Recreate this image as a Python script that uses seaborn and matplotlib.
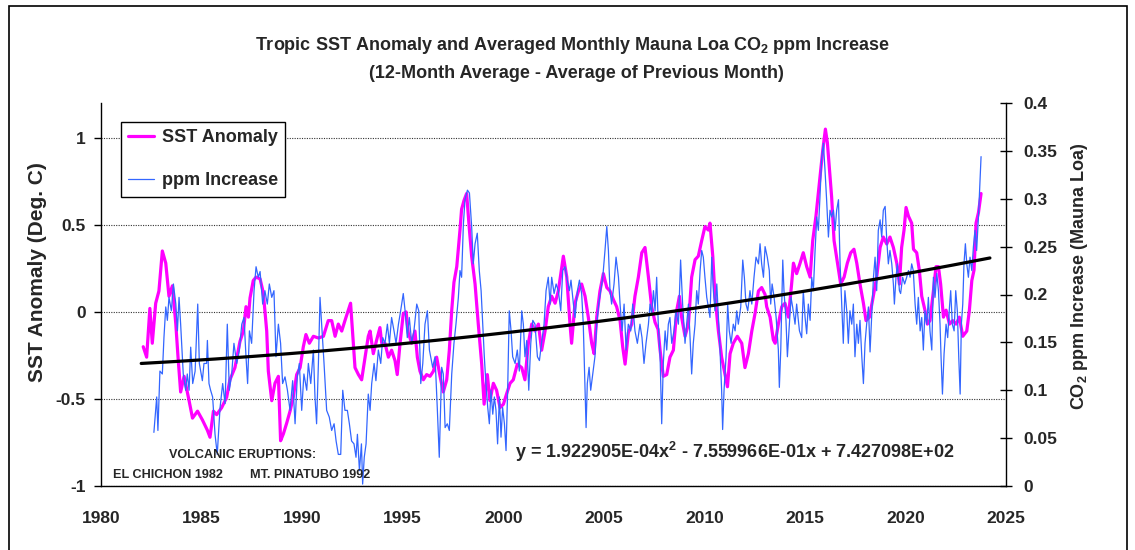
import numpy as np
import pandas as pd
import matplotlib
matplotlib.use("Agg")
import matplotlib.pyplot as plt
import seaborn as sns
from matplotlib.patches import Rectangle

# ---------------- data ----------------
# Tropical SST anomaly (deg C), 12-month running values
sst_years = [
    1982.10, 1982.27, 1982.43, 1982.55, 1982.72, 1982.88, 1983.05, 1983.22, 1983.38, 1983.55,
    1983.72, 1983.83, 1983.96, 1984.13, 1984.38, 1984.55, 1984.80, 1985.04, 1985.29, 1985.42,
    1985.59, 1985.75, 1986.00, 1986.25, 1986.41, 1986.66, 1986.91, 1987.08, 1987.21, 1987.33,
    1987.41, 1987.57, 1987.71, 1987.91, 1988.07, 1988.24, 1988.32, 1988.49, 1988.65, 1988.82,
    1988.93, 1989.07, 1989.23, 1989.40, 1989.56, 1989.73, 1989.90, 1990.06, 1990.19, 1990.36,
    1990.56, 1990.81, 1991.06, 1991.30, 1991.47, 1991.64, 1991.80, 1991.97, 1992.13, 1992.30,
    1992.41, 1992.55, 1992.63, 1992.80, 1992.96, 1993.13, 1993.29, 1993.38, 1993.54, 1993.71,
    1993.87, 1993.96, 1994.12, 1994.29, 1994.45, 1994.62, 1994.73, 1994.87, 1995.03, 1995.17,
    1995.28, 1995.45, 1995.61, 1995.73, 1995.86, 1996.03, 1996.19, 1996.36, 1996.53, 1996.69,
    1996.86, 1997.02, 1997.19, 1997.32, 1997.44, 1997.55, 1997.69, 1997.85, 1997.93, 1998.05,
    1998.18, 1998.32, 1998.43, 1998.60, 1998.76, 1998.93, 1999.05, 1999.21, 1999.34, 1999.51,
    1999.67, 1999.84, 2000.01, 2000.17, 2000.34, 2000.50, 2000.70, 2000.92, 2001.08, 2001.25,
    2001.42, 2001.58, 2001.75, 2001.91, 2002.08, 2002.24, 2002.41, 2002.58, 2002.74, 2002.99,
    2003.16, 2003.32, 2003.40, 2003.57, 2003.74, 2003.90, 2004.07, 2004.23, 2004.40, 2004.52,
    2004.65, 2004.81, 2004.98, 2005.15, 2005.31, 2005.48, 2005.64, 2005.81, 2005.94, 2006.06,
    2006.22, 2006.39, 2006.55, 2006.72, 2006.89, 2007.05, 2007.22, 2007.38, 2007.55, 2007.70,
    2007.80, 2007.96, 2008.13, 2008.29, 2008.46, 2008.63, 2008.76, 2008.87, 2009.04, 2009.21,
    2009.37, 2009.54, 2009.70, 2009.87, 2010.03, 2010.20, 2010.28, 2010.42, 2010.53, 2010.70,
    2010.86, 2011.03, 2011.15, 2011.28, 2011.44, 2011.64, 2011.86, 2012.02, 2012.19, 2012.36,
    2012.52, 2012.69, 2012.85, 2013.02, 2013.10, 2013.27, 2013.43, 2013.52, 2013.68, 2013.85,
    2014.01, 2014.18, 2014.34, 2014.43, 2014.59, 2014.76, 2014.92, 2015.09, 2015.26, 2015.39,
    2015.55, 2015.72, 2015.89, 2016.02, 2016.12, 2016.22, 2016.33, 2016.45, 2016.62, 2016.78,
    2016.95, 2017.11, 2017.28, 2017.44, 2017.58, 2017.74, 2017.91, 2018.04, 2018.21, 2018.37,
    2018.57, 2018.74, 2018.90, 2019.07, 2019.23, 2019.40, 2019.57, 2019.70, 2019.81, 2019.93,
    2020.03, 2020.15, 2020.31, 2020.40, 2020.56, 2020.69, 2020.81, 2020.97, 2021.09, 2021.22,
    2021.39, 2021.52, 2021.64, 2021.75, 2021.89, 2022.02, 2022.19, 2022.35, 2022.52, 2022.68,
    2022.85, 2023.05, 2023.18, 2023.30, 2023.41, 2023.51, 2023.63, 2023.76,
]
sst_values = [
    -0.20, -0.26, 0.02, -0.18, 0.05, 0.12, 0.35, 0.28, 0.09, 0.15,
    -0.07, -0.26, -0.46, -0.37, -0.51, -0.61, -0.57, -0.62, -0.68, -0.72,
    -0.57, -0.59, -0.55, -0.49, -0.39, -0.32, -0.17, -0.11, 0.03, -0.03,
    0.08, 0.18, 0.20, 0.19, 0.11, -0.11, -0.34, -0.51, -0.41, -0.37,
    -0.74, -0.70, -0.64, -0.57, -0.49, -0.36, -0.32, -0.20, -0.13, -0.18,
    -0.14, -0.15, -0.14, -0.05, -0.05, -0.14, -0.07, -0.11, -0.05, 0.01,
    0.05, -0.18, -0.32, -0.36, -0.39, -0.26, -0.14, -0.11, -0.24, -0.16,
    -0.09, -0.18, -0.18, -0.26, -0.22, -0.28, -0.36, -0.18, -0.01, 0.00,
    -0.12, -0.18, -0.11, -0.26, -0.34, -0.39, -0.36, -0.37, -0.34, -0.26,
    -0.37, -0.46, -0.39, -0.22, 0.01, 0.17, 0.26, 0.47, 0.59, 0.64,
    0.68, 0.47, 0.32, 0.16, -0.07, -0.30, -0.53, -0.36, -0.51, -0.41,
    -0.45, -0.55, -0.53, -0.47, -0.41, -0.39, -0.30, -0.32, -0.39, -0.18,
    -0.07, -0.11, -0.07, -0.22, -0.11, 0.03, 0.09, 0.05, 0.12, 0.32,
    0.20, -0.07, -0.18, 0.05, 0.12, 0.16, 0.09, -0.03, -0.18, -0.24,
    -0.03, 0.12, 0.22, 0.14, 0.12, 0.07, 0.03, -0.05, -0.20, -0.30,
    -0.12, -0.07, 0.09, 0.20, 0.34, 0.37, 0.20, 0.03, -0.06, -0.10,
    -0.22, -0.37, -0.36, -0.26, -0.22, 0.01, 0.09, -0.03, -0.14, -0.07,
    0.20, 0.30, 0.32, 0.41, 0.49, 0.47, 0.51, 0.32, 0.09, -0.11,
    -0.26, -0.36, -0.43, -0.24, -0.18, -0.14, -0.18, -0.32, -0.24, -0.11,
    -0.01, 0.12, 0.14, 0.10, 0.03, -0.03, -0.16, -0.18, -0.07, 0.03,
    0.05, -0.03, 0.16, 0.28, 0.22, 0.28, 0.34, 0.26, 0.20, 0.41,
    0.55, 0.74, 0.93, 1.05, 0.97, 0.82, 0.66, 0.41, 0.28, 0.16,
    0.20, 0.28, 0.34, 0.36, 0.28, 0.16, 0.05, -0.05, -0.03, 0.07,
    0.20, 0.37, 0.43, 0.39, 0.43, 0.37, 0.28, 0.16, 0.37, 0.47,
    0.60, 0.55, 0.51, 0.36, 0.34, 0.24, 0.09, 0.01, -0.07, -0.05,
    0.12, 0.26, 0.26, 0.16, -0.03, 0.01, -0.07, -0.05, -0.07, -0.03,
    -0.14, -0.11, 0.01, 0.18, 0.24, 0.51, 0.57, 0.68,
]

# Mauna Loa CO2 monthly increase (ppm), 12-month average minus previous month
ppm_years = [
    1982.63, 1982.77, 1982.83, 1982.93, 1983.05, 1983.13, 1983.22, 1983.30, 1983.38, 1983.50,
    1983.60, 1983.72, 1983.80, 1983.88, 1983.96, 1984.09, 1984.21, 1984.29, 1984.38, 1984.46,
    1984.56, 1984.68, 1984.81, 1984.89, 1985.04, 1985.12, 1985.25, 1985.29, 1985.37, 1985.45,
    1985.55, 1985.67, 1985.78, 1985.92, 1986.05, 1986.17, 1986.28, 1986.38, 1986.50, 1986.61,
    1986.75, 1986.88, 1987.00, 1987.11, 1987.21, 1987.29, 1987.38, 1987.49, 1987.61, 1987.71,
    1987.82, 1987.91, 1988.04, 1988.15, 1988.27, 1988.37, 1988.49, 1988.60, 1988.70, 1988.82,
    1988.93, 1989.03, 1989.15, 1989.27, 1989.40, 1989.53, 1989.65, 1989.76, 1989.86, 1989.98,
    1990.09, 1990.23, 1990.31, 1990.43, 1990.56, 1990.64, 1990.72, 1990.81, 1990.89, 1990.97,
    1991.09, 1991.22, 1991.35, 1991.47, 1991.59, 1991.69, 1991.80, 1991.92, 1992.02, 1992.13,
    1992.25, 1992.35, 1992.46, 1992.58, 1992.68, 1992.75, 1992.85, 1992.95, 1993.01, 1993.09,
    1993.18, 1993.29, 1993.38, 1993.46, 1993.58, 1993.67, 1993.79, 1993.91, 1994.01, 1994.12,
    1994.24, 1994.34, 1994.45, 1994.57, 1994.67, 1994.79, 1994.90, 1995.03, 1995.12, 1995.23,
    1995.33, 1995.45, 1995.56, 1995.70, 1995.80, 1995.90, 1996.00, 1996.11, 1996.23, 1996.33,
    1996.49, 1996.61, 1996.72, 1996.82, 1996.94, 1997.02, 1997.11, 1997.22, 1997.32, 1997.44,
    1997.55, 1997.65, 1997.77, 1997.85, 1997.93, 1998.02, 1998.10, 1998.22, 1998.32, 1998.43,
    1998.51, 1998.60, 1998.71, 1998.81, 1998.90, 1998.98, 1999.06, 1999.14, 1999.23, 1999.31,
    1999.39, 1999.48, 1999.56, 1999.64, 1999.72, 1999.81, 1999.89, 1999.97, 2000.06, 2000.14,
    2000.22, 2000.30, 2000.39, 2000.47, 2000.59, 2000.70, 2000.80, 2000.92, 2001.00, 2001.08,
    2001.17, 2001.27, 2001.37, 2001.47, 2001.58, 2001.70, 2001.80, 2001.91, 2002.03, 2002.13,
    2002.24, 2002.33, 2002.41, 2002.53, 2002.63, 2002.74, 2002.86, 2002.96, 2003.07, 2003.16,
    2003.29, 2003.37, 2003.49, 2003.57, 2003.69, 2003.79, 2003.90, 2003.98, 2004.07, 2004.12,
    2004.18, 2004.27, 2004.35, 2004.45, 2004.56, 2004.65, 2004.75, 2004.85, 2004.95, 2005.06,
    2005.15, 2005.23, 2005.31, 2005.39, 2005.51, 2005.61, 2005.73, 2005.81, 2005.91, 2006.01,
    2006.11, 2006.22, 2006.34, 2006.44, 2006.55, 2006.67, 2006.80, 2006.90, 2007.00, 2007.10,
    2007.22, 2007.30, 2007.38, 2007.47, 2007.55, 2007.63, 2007.71, 2007.80, 2007.88, 2007.96,
    2008.05, 2008.13, 2008.21, 2008.29, 2008.38, 2008.49, 2008.59, 2008.71, 2008.82, 2008.92,
    2009.04, 2009.12, 2009.21, 2009.29, 2009.37, 2009.45, 2009.54, 2009.62, 2009.70, 2009.79,
    2009.87, 2009.95, 2010.03, 2010.12, 2010.20, 2010.28, 2010.37, 2010.45, 2010.53, 2010.62,
    2010.70, 2010.78, 2010.86, 2010.91, 2010.98, 2011.08, 2011.16, 2011.24, 2011.33, 2011.44,
    2011.53, 2011.61, 2011.69, 2011.81, 2011.91, 2011.99, 2012.07, 2012.16, 2012.27, 2012.36,
    2012.47, 2012.57, 2012.69, 2012.77, 2012.85, 2012.94, 2013.02, 2013.13, 2013.23, 2013.30,
    2013.37, 2013.47, 2013.57, 2013.68, 2013.73, 2013.80, 2013.90, 2013.96, 2014.06, 2014.13,
    2014.23, 2014.31, 2014.39, 2014.51, 2014.59, 2014.73, 2014.84, 2014.92, 2015.01, 2015.09,
    2015.17, 2015.26, 2015.34, 2015.42, 2015.50, 2015.59, 2015.67, 2015.75, 2015.84, 2015.92,
    2016.00, 2016.08, 2016.17, 2016.25, 2016.33, 2016.42, 2016.50, 2016.58, 2016.67, 2016.75,
    2016.83, 2016.91, 2016.99, 2017.08, 2017.16, 2017.24, 2017.33, 2017.41, 2017.49, 2017.58,
    2017.66, 2017.74, 2017.83, 2017.91, 2017.99, 2018.07, 2018.16, 2018.24, 2018.32, 2018.41,
    2018.49, 2018.57, 2018.65, 2018.74, 2018.82, 2018.90, 2018.99, 2019.07, 2019.15, 2019.23,
    2019.32, 2019.40, 2019.45, 2019.53, 2019.60, 2019.70, 2019.76, 2019.86, 2019.96, 2020.06,
    2020.15, 2020.23, 2020.31, 2020.39, 2020.48, 2020.56, 2020.64, 2020.73, 2020.81, 2020.89,
    2020.97, 2021.06, 2021.14, 2021.22, 2021.31, 2021.39, 2021.47, 2021.56, 2021.64, 2021.72,
    2021.77, 2021.84, 2021.92, 2022.02, 2022.10, 2022.19, 2022.25, 2022.33, 2022.42, 2022.50,
    2022.58, 2022.65, 2022.72, 2022.78, 2022.85, 2022.91, 2022.98, 2023.05, 2023.13, 2023.21,
    2023.30, 2023.38, 2023.46, 2023.54, 2023.63, 2023.68, 2023.76,
]
ppm_values = [
    0.056, 0.093, 0.058, 0.120, 0.117, 0.155, 0.187, 0.173, 0.197, 0.183,
    0.211, 0.190, 0.162, 0.197, 0.169, 0.117, 0.100, 0.117, 0.100, 0.145,
    0.107, 0.120, 0.190, 0.128, 0.110, 0.128, 0.128, 0.152, 0.107, 0.100,
    0.093, 0.054, 0.033, 0.082, 0.107, 0.086, 0.169, 0.100, 0.117, 0.149,
    0.128, 0.142, 0.169, 0.176, 0.135, 0.107, 0.162, 0.149, 0.204, 0.229,
    0.218, 0.224, 0.190, 0.204, 0.190, 0.211, 0.197, 0.204, 0.135, 0.169,
    0.149, 0.107, 0.114, 0.100, 0.079, 0.110, 0.065, 0.114, 0.128, 0.079,
    0.117, 0.100, 0.128, 0.107, 0.142, 0.093, 0.065, 0.128, 0.197, 0.169,
    0.128, 0.079, 0.072, 0.058, 0.065, 0.047, 0.033, 0.033, 0.100, 0.079,
    0.079, 0.065, 0.047, 0.044, 0.030, 0.054, 0.016, 0.044, 0.002, 0.030,
    0.044, 0.096, 0.079, 0.107, 0.128, 0.110, 0.142, 0.128, 0.155, 0.149,
    0.169, 0.149, 0.176, 0.162, 0.149, 0.169, 0.183, 0.201, 0.183, 0.155,
    0.176, 0.149, 0.162, 0.190, 0.183, 0.107, 0.128, 0.169, 0.183, 0.142,
    0.124, 0.135, 0.082, 0.030, 0.124, 0.117, 0.061, 0.065, 0.058, 0.117,
    0.149, 0.169, 0.197, 0.225, 0.218, 0.274, 0.299, 0.309, 0.306, 0.271,
    0.232, 0.253, 0.264, 0.225, 0.204, 0.169, 0.135, 0.107, 0.082, 0.065,
    0.100, 0.075, 0.093, 0.079, 0.044, 0.093, 0.051, 0.082, 0.065, 0.037,
    0.100, 0.183, 0.162, 0.135, 0.128, 0.142, 0.120, 0.183, 0.169, 0.135,
    0.152, 0.100, 0.149, 0.173, 0.169, 0.135, 0.131, 0.150, 0.169, 0.204,
    0.218, 0.190, 0.218, 0.201, 0.211, 0.204, 0.183, 0.225, 0.229, 0.218,
    0.204, 0.215, 0.190, 0.176, 0.204, 0.215, 0.201, 0.169, 0.100, 0.061,
    0.107, 0.124, 0.100, 0.117, 0.135, 0.169, 0.190, 0.204, 0.218, 0.246,
    0.271, 0.246, 0.204, 0.190, 0.211, 0.239, 0.218, 0.190, 0.162, 0.190,
    0.142, 0.169, 0.162, 0.190, 0.162, 0.149, 0.169, 0.155, 0.128, 0.149,
    0.169, 0.190, 0.180, 0.204, 0.183, 0.218, 0.169, 0.135, 0.065, 0.128,
    0.162, 0.142, 0.169, 0.176, 0.149, 0.162, 0.183, 0.169, 0.236, 0.190,
    0.149, 0.169, 0.190, 0.155, 0.117, 0.149, 0.169, 0.204, 0.190, 0.225,
    0.246, 0.239, 0.218, 0.197, 0.187, 0.176, 0.239, 0.204, 0.183, 0.211,
    0.176, 0.142, 0.100, 0.059, 0.100, 0.135, 0.190, 0.162, 0.149, 0.169,
    0.162, 0.183, 0.169, 0.187, 0.236, 0.218, 0.190, 0.183, 0.204, 0.190,
    0.218, 0.239, 0.232, 0.253, 0.232, 0.218, 0.250, 0.239, 0.225, 0.190,
    0.211, 0.197, 0.176, 0.142, 0.103, 0.142, 0.236, 0.204, 0.173, 0.135,
    0.169, 0.197, 0.187, 0.169, 0.190, 0.162, 0.155, 0.204, 0.176, 0.159,
    0.190, 0.173, 0.218, 0.204, 0.243, 0.281, 0.267, 0.302, 0.344, 0.358,
    0.330, 0.299, 0.260, 0.288, 0.281, 0.288, 0.267, 0.288, 0.299, 0.232,
    0.190, 0.149, 0.204, 0.183, 0.149, 0.183, 0.169, 0.190, 0.135, 0.169,
    0.149, 0.173, 0.135, 0.107, 0.149, 0.169, 0.187, 0.140, 0.176, 0.218,
    0.239, 0.204, 0.267, 0.278, 0.260, 0.288, 0.292, 0.257, 0.232, 0.246,
    0.232, 0.211, 0.190, 0.218, 0.232, 0.204, 0.201, 0.218, 0.211, 0.218,
    0.225, 0.218, 0.232, 0.225, 0.190, 0.169, 0.197, 0.162, 0.176, 0.142,
    0.183, 0.169, 0.197, 0.162, 0.142, 0.218, 0.197, 0.222, 0.204, 0.169,
    0.135, 0.096, 0.138, 0.169, 0.155, 0.187, 0.204, 0.169, 0.162, 0.204,
    0.183, 0.135, 0.096, 0.169, 0.190, 0.232, 0.253, 0.232, 0.218, 0.239,
    0.225, 0.250, 0.267, 0.246, 0.281, 0.306, 0.344,
]

# Polynomial trend fitted to the SST anomaly
trend_coeffs = [1.922905e-04, -7.559966e-01, 7.427098e+02]
trend_span = [1982.0, 2024.2]

x_ticks = [1980, 1985, 1990, 1995, 2000, 2005, 2010, 2015, 2020, 2025]
sst_ticks = [-1, -0.5, 0, 0.5, 1]
sst_tick_labels = ["-1", "-0.5", "0", "0.5", "1"]
ppm_ticks = [0, 0.05, 0.1, 0.15, 0.2, 0.25, 0.3, 0.35, 0.4]
ppm_tick_labels = ["0", "0.05", "0.1", "0.15", "0.2", "0.25", "0.3", "0.35", "0.4"]

# ---------------- styling ----------------
sns.set_style("white")
plt.rcParams["font.family"] = ["Liberation Sans", "DejaVu Sans"]
plt.rcParams["font.weight"] = "bold"
plt.rcParams["mathtext.fontset"] = "custom"
plt.rcParams["mathtext.rm"] = "Liberation Sans:bold"
plt.rcParams["mathtext.bf"] = "Liberation Sans:bold"
plt.rcParams["mathtext.it"] = "Liberation Sans:bold"

W, H = 1135, 550
fig = plt.figure(figsize=(W / 100, H / 100), dpi=100)
fig.patch.set_facecolor("white")


def fx(px):
    return px / W


def fy(py):
    return 1 - py / H


ax = fig.add_axes([fx(101), fy(486), fx(1006) - fx(101), fy(103) - fy(486)])
ax2 = ax.twinx()

MAGENTA = "#ff00ff"
BLUE = "#3366ff"

sst_df = pd.DataFrame({"year": sst_years, "sst": sst_values})
ppm_df = pd.DataFrame({"year": ppm_years, "ppm": ppm_values})

sns.lineplot(data=sst_df, x="year", y="sst", ax=ax, color=MAGENTA, lw=2.3,
             estimator=None, errorbar=None, label="SST Anomaly", legend=False)
sns.lineplot(data=ppm_df, x="year", y="ppm", ax=ax2, color=BLUE, lw=0.9,
             estimator=None, errorbar=None, label="ppm Increase", legend=False)

trend_x = np.linspace(trend_span[0], trend_span[1], 300)
trend_y = np.polyval(trend_coeffs, trend_x)
# drawn on the top axes but in SST data coordinates so it sits above both series
sns.lineplot(x=trend_x, y=trend_y, ax=ax2, color="black", lw=2.3,
             estimator=None, errorbar=None, transform=ax.transData, legend=False)

ax.set_xlim(1980, 2025)
ax.set_ylim(-1, 1.2)
ax2.set_ylim(0, 0.4)
ax.set_xticks(x_ticks)
ax.set_xticklabels([str(t) for t in x_ticks])
ax.set_yticks(sst_ticks)
ax.set_yticklabels(sst_tick_labels)
ax2.set_yticks(ppm_ticks)
ax2.set_yticklabels(ppm_tick_labels)
for a in (ax, ax2):
    a.set_xlabel("")
    a.set_ylabel("")

# horizontal dotted grid on SST ticks
ax.yaxis.grid(True, color="#333333", linestyle=(0, (1, 1.2)), lw=0.8)
ax.xaxis.grid(False)
ax2.grid(False)

for s in ["top", "right"]:
    ax.spines[s].set_visible(False)
for s in ["top", "left", "bottom"]:
    ax2.spines[s].set_visible(False)
for s in ["left", "bottom"]:
    ax.spines[s].set_color("black")
    ax.spines[s].set_linewidth(1.0)
ax2.spines["right"].set_color("black")
ax2.spines["right"].set_linewidth(1.0)

ax.tick_params(axis="x", direction="out", length=5, width=1, color="black",
               labelsize=12.5, pad=13)
ax.tick_params(axis="y", direction="out", length=5, width=1, color="black",
               labelsize=12.5, pad=6)
ax2.tick_params(axis="y", direction="inout", length=9, width=1, color="black",
                labelsize=12.5, pad=8)
for lab in ax.get_xticklabels() + ax.get_yticklabels() + ax2.get_yticklabels():
    lab.set_fontweight("bold")

# legend
handles = ax.get_lines()[:1] + ax2.get_lines()[:1]
leg = ax2.legend(handles, ["SST Anomaly", "ppm Increase"],
                 loc="upper left", bbox_to_anchor=(fx(121), fy(122)),
                 bbox_transform=fig.transFigure, frameon=True, fancybox=False,
                 edgecolor="black", framealpha=1, fontsize=13,
                 handlelength=1.4, handletextpad=0.45, labelspacing=1.45,
                 borderpad=0.4, borderaxespad=0)
leg.get_frame().set_linewidth(1.0)
for t in leg.get_texts():
    t.set_fontweight("bold")

# titles and labels
fig.text(fx(573), fy(45),
         r"Tropic SST Anomaly and Averaged Monthly Mauna Loa CO$_{\mathbf{2}}$ ppm Increase",
         ha="center", va="center", fontsize=13, fontweight="bold")
fig.text(fx(576), fy(73), "(12-Month Average - Average of Previous Month)",
         ha="center", va="center", fontsize=13, fontweight="bold")
fig.text(fx(38), fy(272), "SST Anomaly (Deg. C)", rotation=90,
         ha="center", va="center", fontsize=15, fontweight="bold")
fig.text(fx(1079), fy(276), r"CO$_{\mathbf{2}}$ ppm Increase (Mauna Loa)", rotation=90,
         ha="center", va="center", fontsize=13, fontweight="bold")

fig.text(fx(735), fy(452),
         r"y = 1.922905E-04x$^{\mathbf{2}}$ - 7.559966E-01x + 7.427098E+02",
         ha="center", va="center", fontsize=13, fontweight="bold")

fig.text(fx(243), fy(455), "VOLCANIC ERUPTIONS:", ha="center", va="center",
         fontsize=9.1, fontweight="bold")
fig.text(fx(168), fy(475), "EL CHICHON 1982", ha="center", va="center",
         fontsize=9.1, fontweight="bold")
fig.text(fx(310), fy(475), "MT. PINATUBO 1992", ha="center", va="center",
         fontsize=9.1, fontweight="bold")

# outer frame around the chart area (its lower edge lies below the canvas)
fig.patches.append(Rectangle((fx(9), fy(560)), fx(1127) - fx(9), fy(6) - fy(560),
                             fill=False, edgecolor="black", lw=1.2,
                             transform=fig.transFigure, figure=fig))

fig.savefig("out.png", dpi=100, facecolor="white")
